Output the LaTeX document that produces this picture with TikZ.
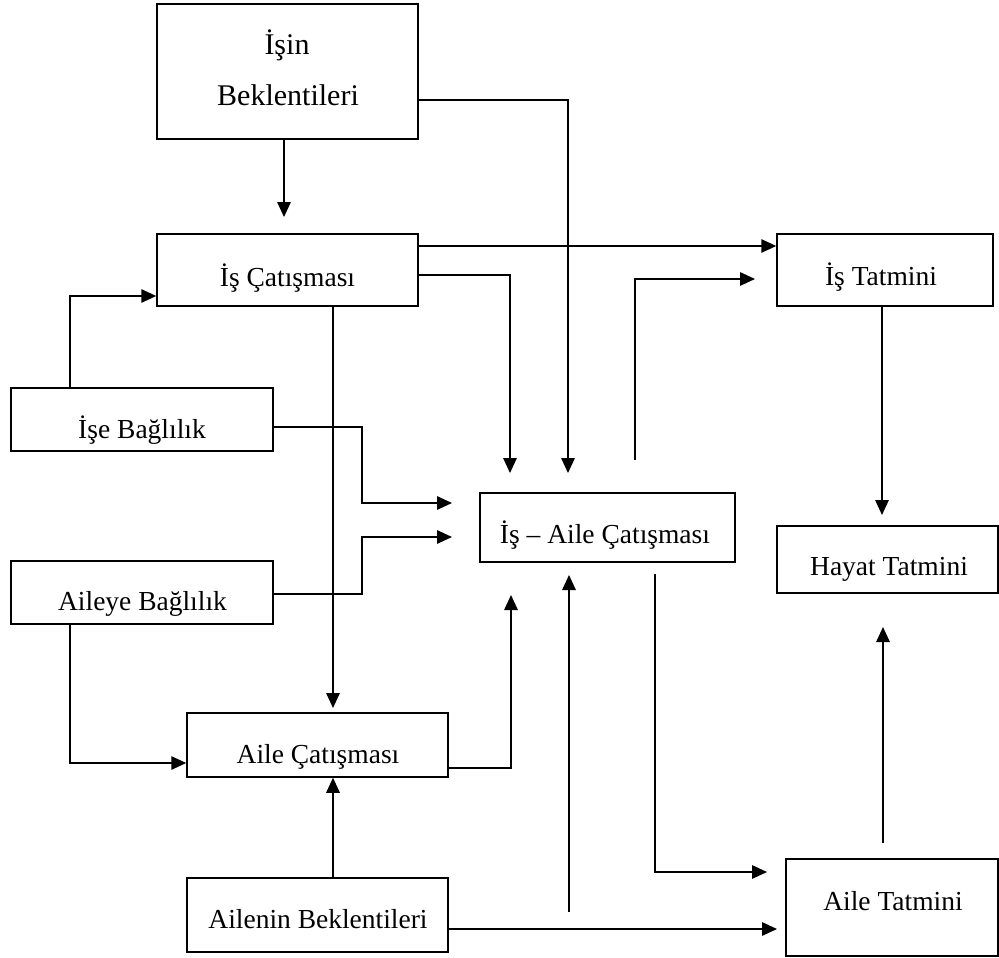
\documentclass[tikz,border=0pt]{standalone}
\usepackage{fontspec}
\setmainfont{Liberation Serif}
\usetikzlibrary{arrows.meta}
\newcommand{\mybox}[5]{\node[box, minimum width={#4-#2}, minimum height={#5-#3}] (#1) at ({(#2+#4)/2},{(#3+#5)/2}) {};}
\begin{document}
\begin{tikzpicture}[x=1pt,y=-1pt,
  box/.style={draw, line width=1.5pt, inner sep=0pt, rectangle},
  lbl/.style={inner sep=0pt, anchor=base, font=\fontsize{27.5}{33}\selectfont},
  big/.style={font=\fontsize{30}{36}\selectfont},
  arr/.style={line width=1.5pt, -{Triangle[length=15pt,width=13.5pt]}},
  ln/.style={line width=1.5pt}]
\useasboundingbox (0,0) rectangle (999,958);
% boxes
\mybox{isin}{157}{4}{418}{139}
\mybox{iscat}{157}{234}{418}{306}
\mybox{iseb}{11}{388}{273}{451}
\mybox{aileb}{11}{561}{273}{624}
\mybox{isaile}{480}{493}{735}{562}
\mybox{istat}{777}{234}{993}{306}
\mybox{hayat}{777}{526}{998}{593}
\mybox{ailecat}{187}{713}{448}{777}
\mybox{ailenin}{187}{878}{448}{952}
\mybox{ailetat}{786}{859}{998}{956}
% texts
\node[lbl,big] (t1) at (287,55) {İşin};
\node[lbl,big] (t2) at (288,106) {Beklentileri};
\node[lbl] (t3) at (287.5,286) {İş Çatışması};
\node[lbl] (t4) at (142,438) {İşe Bağlılık};
\node[lbl] (t5) at (142.5,610) {Aileye Bağlılık};
\node[lbl] (t6) at (605,543) {İş – Aile Çatışması};
\node[lbl] (t7) at (881,285) {İş Tatmini};
\node[lbl] (t8) at (889,575) {Hayat Tatmini};
\node[lbl] (t9) at (318,763) {Aile Çatışması};
\node[lbl] (t10) at (318,928) {Ailenin Beklentileri};
\node[lbl] (t11) at (893,910) {Aile Tatmini};
% coordinates
\coordinate (p1) at (284,217);
\coordinate (b2) at (568,100);
\coordinate (p2) at (568,473);
\coordinate (b3) at (0,246);
\coordinate (b4) at (510,275);
\coordinate (p4) at (510,473);
\coordinate (p5) at (333,708);
\coordinate (b6) at (70,296);
\coordinate (b7a) at (362,427);
\coordinate (b7b) at (362,503);
\coordinate (p7) at (452,503);
\coordinate (b8a) at (362,594);
\coordinate (b8b) at (362,537);
\coordinate (p8) at (452,537);
\coordinate (b9) at (70,763);
\coordinate (b10) at (511,768);
\coordinate (p10) at (511,595);
\coordinate (b12) at (0,929);
\coordinate (p12) at (777,929);
\coordinate (q13) at (569,912);
\coordinate (p13) at (569,575);
\coordinate (q14) at (635,460);
\coordinate (b14) at (635,279);
\coordinate (p14) at (755,279);
\coordinate (q15) at (655,574);
\coordinate (b15) at (655,872);
\coordinate (p15) at (767,872);
\coordinate (p16) at (882,515);
\coordinate (q17) at (883,843);
\coordinate (p17) at (883,627);
% connectors
\draw[arr] (isin.south -| p1) -- (p1);
\draw[arr] (b2 -| isin.east) -- (b2) -- (p2);
\draw[arr] (b3 -| iscat.east) -- (b3 -| istat.west);
\draw[arr] (b4 -| iscat.east) -- (b4) -- (p4);
\draw[arr] (p5 |- iscat.south) -- (p5);
\draw[arr] (b6 |- iseb.north) -- (b6) -- (b6 -| iscat.west);
\draw[arr] (b7a -| iseb.east) -- (b7a) -- (b7b) -- (p7);
\draw[arr] (b8a -| aileb.east) -- (b8a) -- (b8b) -- (p8);
\draw[arr] (b9 |- aileb.south) -- (b9) -- (b9 -| ailecat.west);
\draw[arr] (b10 -| ailecat.east) -- (b10) -- (p10);
\draw[arr] (p5 |- ailenin.north) -- (p5 |- ailecat.south);
\draw[arr] (b12 -| ailenin.east) -- (p12);
\draw[arr] (q13) -- (p13);
\draw[arr] (q14) -- (b14) -- (p14);
\draw[arr] (q15) -- (b15) -- (p15);
\draw[arr] (p16 |- istat.south) -- (p16);
\draw[arr] (q17) -- (p17);
\end{tikzpicture}
\end{document}
